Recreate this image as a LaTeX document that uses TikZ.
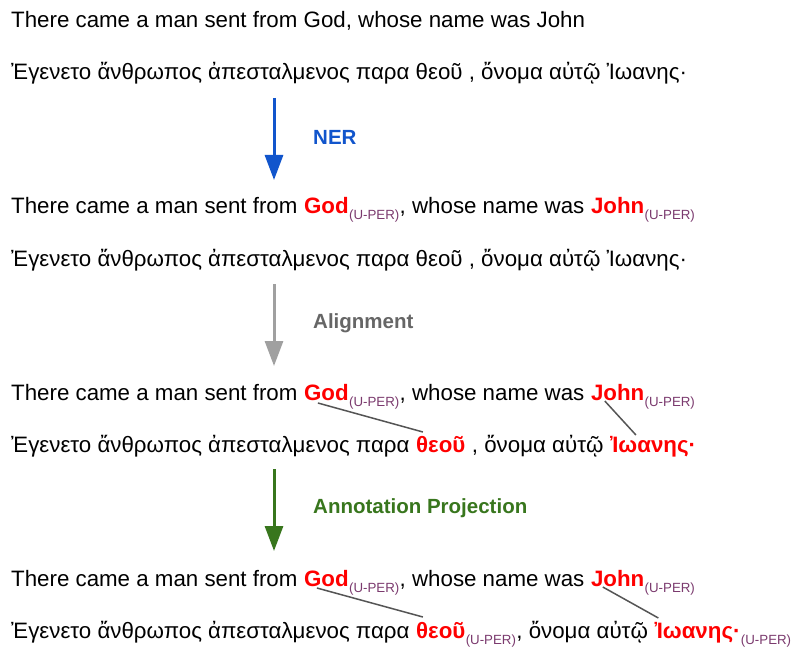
\documentclass[tikz,border=0pt]{standalone}
\usepackage{fontspec}
\setmainfont{Liberation Sans}
\usetikzlibrary{arrows.meta}
\definecolor{entred}{HTML}{FF0000}
\definecolor{tagpurple}{HTML}{7B3A6E}
\definecolor{nerblue}{HTML}{1155CC}
\definecolor{aligngray}{HTML}{A0A0A0}
\definecolor{alignlabel}{HTML}{666666}
\definecolor{projgreen}{HTML}{38761D}
\definecolor{linkgray}{HTML}{555555}
\newcommand{\sentsize}{\fontsize{22.3}{26}\selectfont}
\newcommand{\tagsize}{\fontsize{13.3}{15}\selectfont}
\newcommand{\gap}{\ \mbox{}}
\tikzset{
  sentence/.style={anchor=base west, inner sep=0pt, font=\sentsize},
  entity/.style={sentence, font=\sentsize\bfseries, text=entred},
  pertag/.style={anchor=base west, inner sep=0pt, font=\tagsize, text=tagpurple},
  steparrow/.style={line width=3pt, -{Triangle[length=25pt,width=18pt]}},
  steplabel/.style={anchor=west, inner sep=0pt, font=\fontsize{20.5}{24}\selectfont\bfseries},
  alignlink/.style={draw=linkgray, line width=1.5pt}
}

\begin{document}
\begin{tikzpicture}[x=1pt, y=-1pt]

  % page frame
  \fill[white] (0,0) rectangle (794,652);
  \useasboundingbox (0,0) rectangle (794,652);

  % shift of the tags below the baseline
  \def\tagdrop{-6pt}

  % raw sentence pair
  \node[sentence] (en1) at (11,28) {There came a man sent from God, whose name was John};
  \node[sentence] (gr1) at (11,80) {Ἐγενετο ἄνθρωπος ἀπεσταλμενος παρα θεοῦ , ὄνομα αὐτῷ Ἰωανης·};

  % after NER
  \node[sentence] (en2a) at (11,214) {There came a man sent from\gap};
  \node[entity] (god2) at (en2a.base east) {God};
  \node[pertag] (god2tag) at ([yshift=\tagdrop]god2.base east) {(U-PER)};
  \node[sentence] (en2b) at (god2tag.base east |- god2.base) {, whose name was\gap};
  \node[entity] (john2) at (en2b.base east) {John};
  \node[pertag] (john2tag) at ([yshift=\tagdrop]john2.base east) {(U-PER)};
  \node[sentence] (gr2) at (11,266) {Ἐγενετο ἄνθρωπος ἀπεσταλμενος παρα θεοῦ , ὄνομα αὐτῷ Ἰωανης·};

  % after alignment
  \node[sentence] (en3a) at (11,400) {There came a man sent from\gap};
  \node[entity] (god3) at (en3a.base east) {God};
  \node[pertag] (god3tag) at ([yshift=\tagdrop]god3.base east) {(U-PER)};
  \node[sentence] (en3b) at (god3tag.base east |- god3.base) {, whose name was\gap};
  \node[entity] (john3) at (en3b.base east) {John};
  \node[pertag] (john3tag) at ([yshift=\tagdrop]john3.base east) {(U-PER)};
  \node[sentence] (gr3a) at (11,452) {Ἐγενετο ἄνθρωπος ἀπεσταλμενος παρα\gap};
  \node[entity] (theou3) at (gr3a.base east) {θεοῦ};
  \node[sentence] (gr3b) at (theou3.base east) {\ , ὄνομα αὐτῷ\gap};
  \node[entity] (ioan3) at (gr3b.base east) {Ἰωανης·};
  \draw[alignlink] ([shift={(14pt,-3pt)}]god3.base west) -- ([shift={(7pt,20pt)}]theou3.base west);
  \draw[alignlink] ([shift={(14pt,-1pt)}]john3.base west) -- ([shift={(26pt,17pt)}]ioan3.base west);

  % after projection
  \node[sentence] (en4a) at (11,586) {There came a man sent from\gap};
  \node[entity] (god4) at (en4a.base east) {God};
  \node[pertag] (god4tag) at ([yshift=\tagdrop]god4.base east) {(U-PER)};
  \node[sentence] (en4b) at (god4tag.base east |- god4.base) {, whose name was\gap};
  \node[entity] (john4) at (en4b.base east) {John};
  \node[pertag] (john4tag) at ([yshift=\tagdrop]john4.base east) {(U-PER)};
  \node[sentence] (gr4a) at (11,638) {Ἐγενετο ἄνθρωπος ἀπεσταλμενος παρα\gap};
  \node[entity] (theou4) at (gr4a.base east) {θεοῦ};
  \node[pertag] (theou4tag) at ([yshift=\tagdrop]theou4.base east) {(U-PER)};
  \node[sentence] (gr4b) at (theou4tag.base east |- theou4.base) {, ὄνομα αὐτῷ\gap};
  \node[entity] (ioan4) at (gr4b.base east) {Ἰωανης·};
  \node[pertag] (ioan4tag) at ([yshift=\tagdrop]ioan4.base east) {(U-PER)};
  \draw[alignlink] ([shift={(13pt,-2pt)}]god4.base west) -- ([shift={(7pt,21pt)}]theou4.base west);
  \draw[alignlink] ([shift={(12pt,-1pt)}]john4.base west) -- ([shift={(4pt,20pt)}]ioan4.base west);

  % pipeline steps
  \foreach \i/\ytop/\arrcol/\lblcol/\lbl in {
    1/98/nerblue/nerblue/NER,
    2/284/aligngray/alignlabel/Alignment,
    3/469/projgreen/projgreen/Annotation Projection
  }{
    \coordinate (top\i) at (274,\ytop);
    \coordinate (tip\i) at (274,\ytop+82);
    \draw[steparrow, draw=\arrcol] (top\i) -- (tip\i);
    \node[steplabel, text=\lblcol] (label\i) at (313,\ytop+39) {\lbl};
  }

\end{tikzpicture}
\end{document}
